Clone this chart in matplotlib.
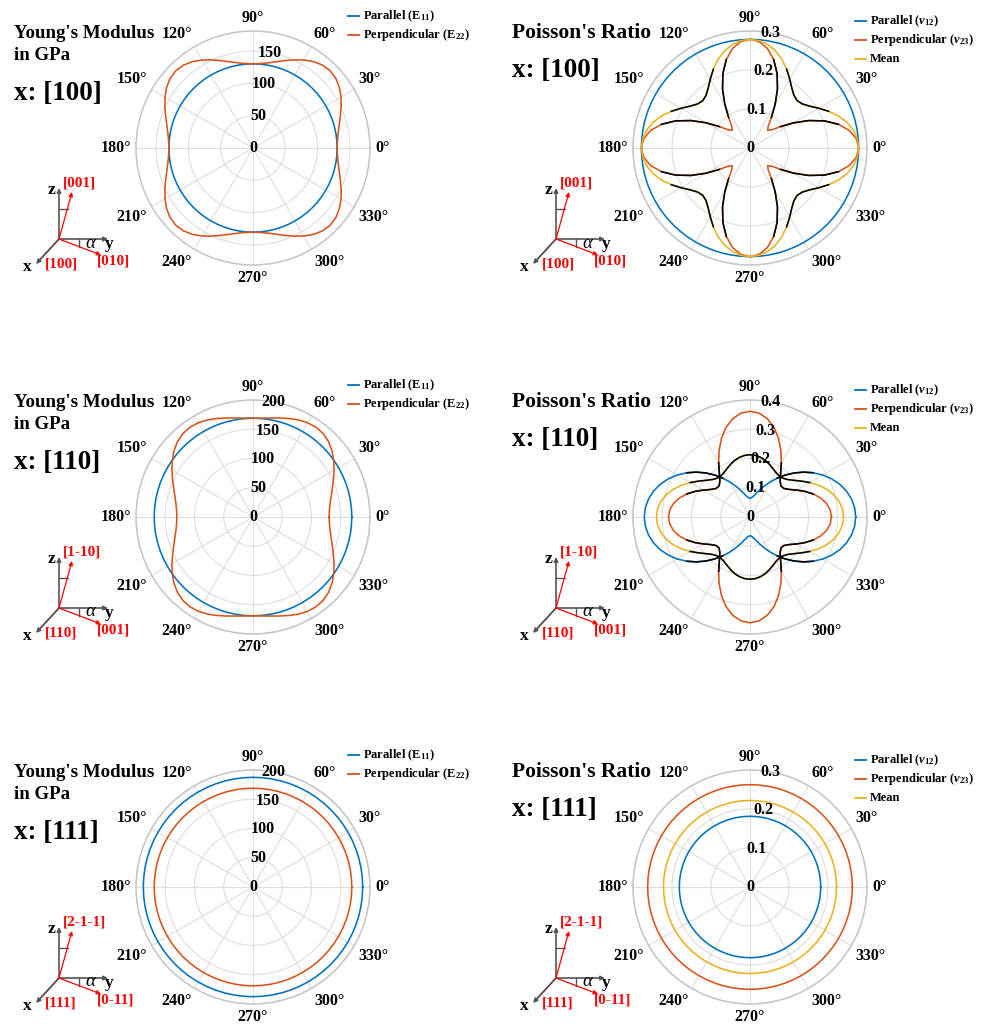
import numpy as np
import matplotlib
matplotlib.use("Agg")
import matplotlib.pyplot as plt

plt.rcParams['font.family'] = 'Liberation Serif'
plt.rcParams['font.weight'] = 'bold'
plt.rcParams['mathtext.fontset'] = 'custom'
plt.rcParams['mathtext.rm'] = 'Liberation Serif:bold'
plt.rcParams['mathtext.it'] = 'Liberation Serif:italic'
plt.rcParams['mathtext.bf'] = 'Liberation Serif:bold'

# ---------------------------------------------------------------- data
# in-plane angle alpha (deg), first quadrant; other quadrants follow by symmetry
ALPHA = [0, 5, 10, 15, 20, 25, 30, 35, 40, 45, 50, 55, 60, 65, 70, 75, 80, 85, 90]

# Young's modulus (GPa)
E11_X100 = 130.2
E22_X100 = [130.2, 131.1, 133.8, 138.1, 143.8, 150.4, 157.2, 163.2, 167.4, 168.9,
            167.4, 163.2, 157.2, 150.4, 143.8, 138.1, 133.8, 131.1, 130.2]
E11_X110 = 168.9
E22_X110 = [130.2, 131.1, 133.8, 138.3, 144.3, 151.7, 160.0, 168.5, 176.3, 182.5,
            186.3, 187.5, 186.2, 183.2, 179.2, 175.2, 171.9, 169.7, 168.9]
E11_X111 = 187.5
E22_X111 = 168.9

# Poisson's ratio
NU12_X100 = 0.2786
NU23_X100 = [0.2786, 0.2736, 0.2588, 0.2348, 0.2032, 0.1666, 0.1289, 0.0956, 0.0725, 0.0642,
             0.0725, 0.0956, 0.1289, 0.1666, 0.2032, 0.2348, 0.2588, 0.2736, 0.2786]
MEAN_X100 = [0.2786, 0.2761, 0.2687, 0.2567, 0.2409, 0.2226, 0.2038, 0.1871, 0.1756, 0.1714,
             0.1756, 0.1871, 0.2038, 0.2226, 0.2409, 0.2567, 0.2687, 0.2761, 0.2786]
NU12_X110 = [0.3615, 0.3592, 0.3525, 0.3416, 0.3267, 0.3084, 0.2872, 0.2637, 0.2387, 0.2128,
             0.1870, 0.1620, 0.1385, 0.1173, 0.0990, 0.0841, 0.0732, 0.0664, 0.0642]
NU23_X110 = [0.2786, 0.2754, 0.2657, 0.2503, 0.2301, 0.2072, 0.1840, 0.1642, 0.1516, 0.1496,
             0.1602, 0.1827, 0.2142, 0.2501, 0.2857, 0.3171, 0.3412, 0.3564, 0.3615]
MEAN_X110 = [0.3201, 0.3173, 0.3091, 0.2960, 0.2784, 0.2578, 0.2356, 0.2140, 0.1952, 0.1812,
             0.1736, 0.1724, 0.1764, 0.1837, 0.1924, 0.2006, 0.2072, 0.2114, 0.2129]
NU12_X111 = 0.1813
NU23_X111 = 0.2624
MEAN_X111 = 0.2219

THETA_LABELS = ['0°', '30°', '60°', '90°', '120°', '150°',
                '180°', '210°', '240°', '270°', '300°', '330°']

C_BLUE, C_ORANGE, C_YELLOW = '#0072BD', '#D95319', '#EDB120'

# ---------------------------------------------------------------- figure
W, H = 983, 1024
fig = plt.figure(figsize=(W / 100, H / 100), dpi=100)
ov = fig.add_axes([0, 0, 1, 1], zorder=10)
ov.set_xlim(0, W)
ov.set_ylim(H, 0)
ov.axis('off')

R = 117  # polar radius in pixels


def unfold(q):
    """Extend first-quadrant values (0..90 deg) to the full circle."""
    if np.isscalar(q):
        q = [q] * len(ALPHA)
    q = list(q)
    return np.array(q + q[::-1][1:] + q[1:] + q[::-1][1:])


THETA_DEG = np.arange(0, 361, 5)
THETA = np.deg2rad(THETA_DEG)
FOLDED = np.minimum(THETA_DEG % 180, 180 - THETA_DEG % 180)


def polar_panel(cx, cy, rmax, rticks, rlabels, curves, overlays=()):
    ax = fig.add_axes([(cx - R) / W, 1 - (cy + R) / H, 2 * R / W, 2 * R / H],
                      projection='polar')
    ax.set_ylim(0, rmax)
    ax.set_xticks(np.deg2rad(np.arange(0, 360, 30)))
    ax.set_xticklabels([])
    ax.set_yticks(rticks)
    ax.set_yticklabels([])
    ax.tick_params(length=0)
    ax.grid(True, color='#dddddd', lw=0.8)
    ax.spines['polar'].set_color('#c4c4c4')
    ax.spines['polar'].set_linewidth(1.1)
    for vals, color in curves:
        ax.plot(THETA, unfold(vals), color=color, lw=1.15, zorder=3)
    # black highlight over selected angular windows of a curve
    for vals, windows in overlays:
        full = unfold(vals)
        mask = np.zeros(len(THETA_DEG), bool)
        for lo, hi in windows:
            mask |= (FOLDED >= lo) & (FOLDED <= hi)
        ax.plot(THETA, np.where(mask, full, np.nan), color='black', lw=1.15, zorder=4)
    for r, lab in zip(rticks, rlabels):
        ax.text(np.deg2rad(80), r, lab, ha='center', va='center',
                fontsize=11.5, zorder=6)
    g = 5
    for a, lab in zip(range(0, 360, 30), THETA_LABELS):
        c, s = np.cos(np.deg2rad(a)), np.sin(np.deg2rad(a))
        ha = 'left' if c > 0.01 else ('right' if c < -0.01 else 'center')
        va = 'bottom' if s > 0.01 else ('top' if s < -0.01 else 'center')
        ov.text(cx + (R + g) * c, cy - (R + g) * s, lab, ha=ha, va=va, fontsize=11.5)
    return ax


def legend(x0, y0, entries, dy=19):
    for i, (lab, color) in enumerate(entries):
        y = y0 + i * dy
        ov.plot([x0, x0 + 11], [y, y], color=color, lw=1.3)
        ov.text(x0 + 15, y, lab, ha='left', va='center', fontsize=9)


def arrow(p0, p1, color, lw=1.0):
    ov.annotate('', xy=p1, xytext=p0,
                arrowprops=dict(arrowstyle='-|>', color=color, lw=lw,
                                shrinkA=0, shrinkB=0, mutation_scale=6))


def axes_icon(ox, oy, up_lab, x_lab, right_lab):
    dark = '#555555'
    arrow((ox, oy), (ox, oy - 51), dark, 1.2)
    arrow((ox, oy), (ox + 49, oy), dark, 1.2)
    arrow((ox, oy), (ox - 23, oy + 25), dark, 1.2)
    ov.plot([ox, ox - 20], [oy, oy + 21.7], color='red', lw=1.0)
    arrow((ox, oy), (ox + 13, oy - 47), 'red', 0.9)
    arrow((ox, oy), (ox + 42, oy + 16), 'red', 0.9)
    ov.plot([ox, ox + 9], [oy - 30, oy - 30], color=dark, lw=1.0)
    ov.plot([ox + 20, ox + 20], [oy, oy + 7.6], color=dark, lw=1.0)
    ov.text(ox - 7, oy - 49, 'z', ha='center', va='center', fontsize=12.5)
    ov.text(ox + 50, oy + 5, 'y', ha='center', va='center', fontsize=12.5)
    ov.text(ox - 32, oy + 28, 'x', ha='center', va='center', fontsize=12.5)
    ov.text(ox + 31, oy + 4, 'α', ha='center', va='center', fontsize=13.5,
            style='italic', fontweight='normal')
    ov.text(ox + 4, oy - 56, up_lab, ha='left', va='center', fontsize=11, color='red')
    ov.text(ox - 14, oy + 25, x_lab, ha='left', va='center', fontsize=11, color='red')
    ov.text(ox + 38, oy + 22, right_lab, ha='left', va='center', fontsize=11, color='red')


def young_block(cx, cy, direction):
    ov.text(cx - 239, cy - 110, "Young's Modulus", ha='left', va='baseline', fontsize=13.6)
    ov.text(cx - 239, cy - 88, "in GPa", ha='left', va='baseline', fontsize=13.6)
    ov.text(cx - 239, cy - 48, "x: " + direction, ha='left', va='baseline', fontsize=19.5)
    legend(cx + 95, cy - 132, [("Parallel (E$_{11}$)", C_BLUE),
                               ("Perpendicular (E$_{22}$)", C_ORANGE)])


def poisson_block(cx, cy, direction):
    ov.text(cx - 238, cy - 110, "Poisson's Ratio", ha='left', va='baseline', fontsize=15.5)
    ov.text(cx - 238, cy - 71, "x: " + direction, ha='left', va='baseline', fontsize=19.5)
    legend(cx + 105, cy - 127, [(r"Parallel ($\nu_{12}$)", C_BLUE),
                                (r"Perpendicular ($\nu_{23}$)", C_ORANGE),
                                ("Mean", C_YELLOW)])


XL, XR = 253, 750
ROWS = [148, 517, 887]

# ---- x = [100]
cy = ROWS[0]
polar_panel(XL, cy, 181, [0, 50, 100, 150], ['0', '50', '100', '150'],
            [(E11_X100, C_BLUE), (E22_X100, C_ORANGE)])
young_block(XL, cy, '[100]')
axes_icon(XL - 194, cy + 91, '[001]', '[100]', '[010]')
polar_panel(XR, cy, 0.3, [0, 0.1, 0.2, 0.3], ['0', '0.1', '0.2', '0.3'],
            [(NU12_X100, C_BLUE), (NU23_X100, C_ORANGE), (MEAN_X100, C_YELLOW)],
            overlays=[(MEAN_X100, [(25, 65)]),
                      (NU23_X100, [(15, 35), (55, 75)])])
poisson_block(XR, cy, '[100]')
axes_icon(XR - 194, cy + 91, '[001]', '[100]', '[010]')

# ---- x = [110]
cy = ROWS[1]
polar_panel(XL, cy, 200, [0, 50, 100, 150, 200], ['0', '50', '100', '150', '200'],
            [(E11_X110, C_BLUE), (E22_X110, C_ORANGE)])
young_block(XL, cy, '[110]')
axes_icon(XL - 194, cy + 91, '[1-10]', '[110]', '[001]')
polar_panel(XR, cy, 0.4, [0, 0.1, 0.2, 0.3, 0.4], ['0', '0.1', '0.2', '0.3', '0.4'],
            [(NU12_X110, C_BLUE), (NU23_X110, C_ORANGE), (MEAN_X110, C_YELLOW)],
            overlays=[(MEAN_X110, [(30, 90)]),
                      (NU12_X110, [(35, 55)]),
                      (NU23_X110, [(20, 60)])])
poisson_block(XR, cy, '[110]')
axes_icon(XR - 194, cy + 91, '[1-10]', '[110]', '[001]')

# ---- x = [111]
cy = ROWS[2]
polar_panel(XL, cy, 200, [0, 50, 100, 150, 200], ['0', '50', '100', '150', '200'],
            [(E11_X111, C_BLUE), (E22_X111, C_ORANGE)])
young_block(XL, cy, '[111]')
axes_icon(XL - 194, cy + 91, '[2-1-1]', '[111]', '[0-11]')
polar_panel(XR, cy, 0.3, [0, 0.1, 0.2, 0.3], ['0', '0.1', '0.2', '0.3'],
            [(NU12_X111, C_BLUE), (NU23_X111, C_ORANGE), (MEAN_X111, C_YELLOW)])
poisson_block(XR, cy, '[111]')
axes_icon(XR - 194, cy + 91, '[2-1-1]', '[111]', '[0-11]')

fig.savefig('out.png', dpi=100)
